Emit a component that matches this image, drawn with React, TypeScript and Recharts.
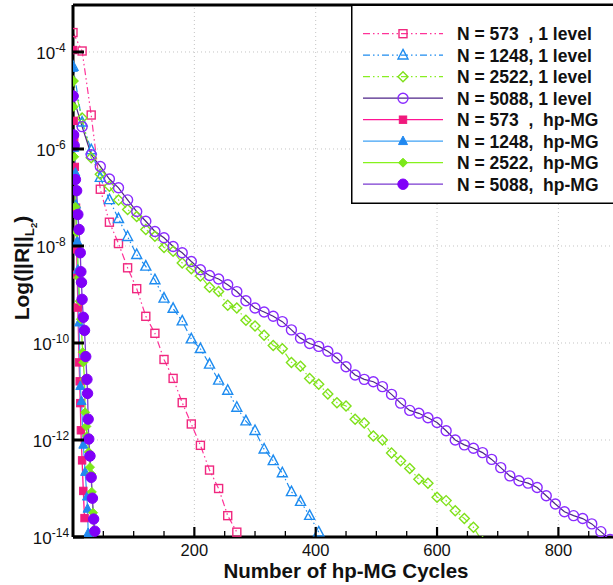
import React from 'react';
import { LineChart, Line, XAxis, YAxis, ReferenceLine, Legend } from 'recharts';

// ---- data (cycles and log10 of residual) ----
const pinkLevelCycles = [0, 15, 30, 45, 60, 75, 90, 105, 120, 135, 150, 165, 180, 195, 210, 225, 240, 255, 270];
const pinkLevelLog = [-3.60, -3.98, -5.30, -6.83, -7.51, -7.95, -8.45, -8.88, -9.45, -9.80, -10.34, -10.73, -11.23, -11.67, -12.11, -12.62, -13.00, -13.56, -13.90];

const blueLevelCycles = [0, 15, 30, 45, 60, 75, 90, 105, 120, 135, 150, 165, 180, 195, 210, 225, 240, 255, 270, 285, 300, 315, 330, 345, 360, 375, 390, 405];
const blueLevelLog = [-4.30, -5.45, -6.02, -6.59, -7.05, -7.44, -7.81, -8.18, -8.42, -8.70, -9.08, -9.29, -9.55, -9.92, -10.12, -10.44, -10.77, -10.98, -11.33, -11.61, -11.81, -12.19, -12.43, -12.68, -13.07, -13.27, -13.56, -13.90];

const greenLevelCycles = [0, 15, 30, 45, 60, 75, 90, 105, 120, 135, 150, 165, 180, 195, 210, 225, 240, 255, 270, 285, 300, 315, 330, 345, 360, 375, 390, 405, 420, 435, 450, 465, 480, 495, 510, 525, 540, 555, 570, 585, 600, 615, 630, 645, 660, 675];
const greenLevelLog = [-4.60, -5.36, -6.18, -6.52, -6.77, -7.05, -7.25, -7.39, -7.66, -7.80, -8.03, -8.11, -8.35, -8.47, -8.62, -8.85, -8.94, -9.22, -9.28, -9.53, -9.65, -9.84, -10.05, -10.12, -10.40, -10.48, -10.73, -10.85, -11.05, -11.23, -11.30, -11.57, -11.65, -11.92, -12.00, -12.27, -12.43, -12.59, -12.81, -12.89, -13.18, -13.25, -13.46, -13.62, -13.80, -14.10];

const purpleLevelCycles = [0, 15, 30, 45, 60, 75, 90, 105, 120, 135, 150, 165, 180, 195, 210, 225, 240, 255, 270, 285, 300, 315, 330, 345, 360, 375, 390, 405, 420, 435, 450, 465, 480, 495, 510, 525, 540, 555, 570, 585, 600, 615, 630, 645, 660, 675, 690, 705, 720, 735, 750, 765, 780, 795, 810, 825, 840, 855, 870, 885];
const purpleLevelLog = [-4.91, -5.54, -6.12, -6.36, -6.62, -6.80, -7.05, -7.29, -7.49, -7.70, -7.83, -8.01, -8.14, -8.32, -8.49, -8.61, -8.68, -8.80, -8.94, -9.13, -9.28, -9.36, -9.45, -9.56, -9.73, -9.90, -10.01, -10.07, -10.17, -10.31, -10.49, -10.66, -10.75, -10.80, -10.90, -11.06, -11.24, -11.39, -11.45, -11.54, -11.64, -11.81, -12.00, -12.10, -12.17, -12.26, -12.40, -12.57, -12.74, -12.84, -12.89, -12.98, -13.15, -13.32, -13.48, -13.56, -13.62, -13.73, -13.89, -14.05];

const pinkMgCycles = [0, 1, 2, 3, 5, 6, 7, 8, 10, 11, 12, 13, 15, 17, 19];
const pinkMgLog = [-3.96, -5.42, -5.77, -6.37, -7.21, -8.07, -8.59, -9.27, -10.40, -10.79, -11.24, -11.80, -12.42, -13.05, -13.61];

const blueMgCycles = [0, 2, 4, 5, 7, 8, 10, 12, 14, 17, 20, 23, 24, 25];
const blueMgLog = [-4.33, -5.98, -6.49, -7.15, -7.90, -8.49, -9.58, -10.89, -11.20, -12.10, -12.66, -13.17, -13.42, -13.92];

const greenMgCycles = [0, 1, 2, 4, 6, 9, 11, 13, 16, 17, 19, 20, 22, 23, 26, 28, 30, 31, 33, 34];
const greenMgLog = [-4.60, -5.13, -6.16, -7.19, -7.72, -8.65, -9.14, -9.51, -10.19, -10.40, -10.75, -11.43, -11.72, -11.92, -12.25, -12.56, -12.70, -13.07, -13.50, -13.90];

const purpleMgCycles = [0, 1, 2, 4, 6, 8, 10, 12, 13, 14, 15, 17, 19, 21, 23, 24, 25, 26, 28, 30, 32, 34, 36];
const purpleMgLog = [-4.91, -5.71, -5.93, -6.63, -6.86, -7.35, -7.66, -8.14, -8.53, -8.75, -9.10, -9.47, -9.74, -10.28, -10.75, -11.04, -11.57, -11.98, -12.33, -12.77, -13.20, -13.63, -13.88];

const legendLabels = [
  'N = 573  , 1 level',
  'N = 1248, 1 level',
  'N = 2522, 1 level',
  'N = 5088, 1 level',
  'N = 573  ,  hp-MG',
  'N = 1248,  hp-MG',
  'N = 2522,  hp-MG',
  'N = 5088,  hp-MG',
];

const xTicks = [50, 100, 150, 200, 250, 300, 350, 400, 450, 500, 550, 600, 650, 700, 750, 800, 850];
const xGrid = [200, 400, 600, 800];
const yTicks = [1e-14, 1e-12, 1e-10, 1e-8, 1e-6, 1e-4];
const yGrid = [1e-12, 1e-10, 1e-8, 1e-6, 1e-4];
const X_DOMAIN: [number, number] = [0, 890];
const Y_DOMAIN: [number, number] = [1e-14, 9.3e-4];

const FONT = '"Liberation Sans", Arial, Helvetica, sans-serif';

type Shape = 'square' | 'triangle' | 'diamond' | 'circle';
interface SeriesDef {
  id: string;
  label: string;
  cycles: number[];
  logs: number[];
  line: string;
  marker: string;
  shape: Shape;
  filled: boolean;
  size: number;
  dash?: string;
  width: number;
}

const DASH = '7 3 1.5 3 1.5 3';

const series: SeriesDef[] = [
  { id: 'p1', label: legendLabels[0], cycles: pinkLevelCycles, logs: pinkLevelLog, line: '#FF3399', marker: '#F0287F', shape: 'square', filled: false, size: 4, dash: DASH, width: 1.2 },
  { id: 'b1', label: legendLabels[1], cycles: blueLevelCycles, logs: blueLevelLog, line: '#1E8CF0', marker: '#1E8CF0', shape: 'triangle', filled: false, size: 5, dash: DASH, width: 1.2 },
  { id: 'g1', label: legendLabels[2], cycles: greenLevelCycles, logs: greenLevelLog, line: '#88EE22', marker: '#7FE01A', shape: 'diamond', filled: false, size: 5, dash: DASH, width: 1.2 },
  { id: 'v1', label: legendLabels[3], cycles: purpleLevelCycles, logs: purpleLevelLog, line: '#4E2588', marker: '#8A2BFF', shape: 'circle', filled: false, size: 5, width: 1.2 },
  { id: 'p2', label: legendLabels[4], cycles: pinkMgCycles, logs: pinkMgLog, line: '#FF1493', marker: '#F0197D', shape: 'square', filled: true, size: 3.7, width: 1.3 },
  { id: 'b2', label: legendLabels[5], cycles: blueMgCycles, logs: blueMgLog, line: '#3FA2F5', marker: '#2088F0', shape: 'triangle', filled: true, size: 4.5, width: 1.3 },
  { id: 'g2', label: legendLabels[6], cycles: greenMgCycles, logs: greenMgLog, line: '#86F21C', marker: '#7CE81A', shape: 'diamond', filled: true, size: 4.5, width: 1.3 },
  { id: 'v2', label: legendLabels[7], cycles: purpleMgCycles, logs: purpleMgLog, line: '#7A3AD0', marker: '#8000F8', shape: 'circle', filled: true, size: 5.2, width: 1.3 },
];

const toPoints = (cycles: number[], logs: number[]) =>
  cycles.map((c, i) => ({ x: c, y: Math.pow(10, logs[i]) }));

function Marker({ cx, cy, def }: { cx: number; cy: number; def: SeriesDef }) {
  const h = def.size;
  const fill = def.filled ? def.marker : 'none';
  const sw = def.filled ? 1 : 1.4;
  switch (def.shape) {
    case 'square':
      return <rect x={cx - h} y={cy - h} width={2 * h} height={2 * h} fill={fill} stroke={def.marker} strokeWidth={sw} />;
    case 'triangle':
      return (
        <polygon
          points={`${cx},${cy - h * 1.15} ${cx + h},${cy + h * 0.75} ${cx - h},${cy + h * 0.75}`}
          fill={fill}
          stroke={def.marker}
          strokeWidth={sw}
        />
      );
    case 'diamond':
      return <polygon points={`${cx},${cy - h} ${cx + h},${cy} ${cx},${cy + h} ${cx - h},${cy}`} fill={fill} stroke={def.marker} strokeWidth={sw} />;
    default:
      return <circle cx={cx} cy={cy} r={h} fill={fill} stroke={def.marker} strokeWidth={sw} />;
  }
}

const makeDot = (def: SeriesDef) => (props: any) => {
  const { cx, cy, index } = props;
  if (cx == null || cy == null || isNaN(cx) || isNaN(cy)) return <g key={`${def.id}-${index}`} />;
  return <Marker key={`${def.id}-${index}`} cx={cx} cy={cy} def={def} />;
};

const XTick = (props: any) => {
  const { x, y, payload } = props;
  const v = payload.value;
  const major = v % 200 === 0;
  return (
    <g>
      <line x1={x} x2={x} y1={y} y2={y - (major ? 10 : 6)} stroke="#000" strokeWidth={major ? 2.2 : 1.3} />
      {major && (
        <text x={x} y={y + 18.5} textAnchor="middle" fontSize={16.5} fontFamily={FONT} fill="#111">
          {v}
        </text>
      )}
    </g>
  );
};

const YTick = (props: any) => {
  const { x, y, payload } = props;
  const e = Math.round(Math.log10(payload.value));
  return (
    <g>
      <line x1={x} x2={x + 11} y1={y} y2={y} stroke="#000" strokeWidth={3} />
      <text x={x - 22} y={y + 7} textAnchor="middle" fontSize={17} fontFamily={FONT} fill="#111">
        <tspan>10</tspan>
        <tspan fontSize={12} dy={-7}>{e}</tspan>
      </text>
    </g>
  );
};

const YLabel = (props: any) => {
  const vb = props.viewBox || { x: 72, y: 5, width: 1, height: 532 };
  const cx = vb.x + (vb.width || 0) - 44;
  const cy = vb.y + vb.height / 2 - 3;
  return (
    <text
      transform={`translate(${cx}, ${cy}) rotate(-90)`}
      textAnchor="middle"
      fontSize={21}
      fontWeight="bold"
      fontFamily={FONT}
      fill="#111"
    >
      Log(||R||
      <tspan fontSize={13.5} dy={5}>L</tspan>
      <tspan fontSize={9.5} dy={3}>2</tspan>
      <tspan fontSize={21} dy={-8}>)</tspan>
    </text>
  );
};

const XLabel = (props: any) => {
  const vb = props.viewBox || { x: 73, y: 537, width: 540, height: 1 };
  return (
    <text x={vb.x + vb.width / 2 + 3} y={vb.y + 41} textAnchor="middle" fontSize={20.5} fontWeight="bold" fontFamily={FONT} fill="#111">
      Number of hp-MG Cycles
    </text>
  );
};

const LegendBox = () => {
  const rowY0 = 27.7;
  const rowStep = 21.5;
  return (
    <svg width={262} height={198} style={{ display: 'block', overflow: 'hidden' }}>
      <rect x={0} y={0} width={262} height={198} fill="#fff" />
      <line x1={0.75} x2={0.75} y1={0} y2={197.25} stroke="#000" strokeWidth={1.5} />
      <line x1={0} x2={262} y1={197.25} y2={197.25} stroke="#000" strokeWidth={1.5} />
      {series.map((s, i) => {
        const cy = rowY0 + i * rowStep;
        return (
          <g key={s.id}>
            <line x1={12} x2={92} y1={cy} y2={cy} stroke={s.line} strokeWidth={s.width} strokeDasharray={s.dash} />
            <Marker cx={52} cy={cy} def={s} />
            <text x={106} y={cy + 6.5} fontSize={17.5} fontWeight="bold" fontFamily={FONT} fill="#111" style={{ whiteSpace: 'pre' }}>
              {s.label}
            </text>
          </g>
        );
      })}
    </svg>
  );
};

export default function App() {
  return (
    <div style={{ position: 'absolute', left: 0, top: 0, width: 613, height: 585, background: '#fff' }}>
      <LineChart width={613} height={585} margin={{ top: 4, right: 0, bottom: 47, left: 72 }}>
        <XAxis
          type="number"
          dataKey="x"
          domain={X_DOMAIN}
          allowDataOverflow
          ticks={xTicks}
          interval={0}
          height={1}
          tickSize={0}
          tickMargin={0}
          tickLine={false}
          tick={<XTick />}
          axisLine={{ stroke: '#000', strokeWidth: 3 }}
          label={<XLabel />}
        />
        <XAxis
          xAxisId="top"
          orientation="top"
          type="number"
          domain={X_DOMAIN}
          allowDataOverflow
          height={1}
          tick={false}
          tickLine={false}
          axisLine={{ stroke: '#000', strokeWidth: 3 }}
        />
        <YAxis
          type="number"
          scale="log"
          domain={Y_DOMAIN}
          allowDataOverflow
          ticks={yTicks}
          interval={0}
          width={1}
          tickSize={0}
          tickMargin={0}
          tickLine={false}
          tick={<YTick />}
          axisLine={{ stroke: '#000', strokeWidth: 3 }}
          label={<YLabel />}
        />
        {xGrid.map((v) => (
          <ReferenceLine key={`gx${v}`} x={v} stroke="#c4c4c4" strokeDasharray="1 3" strokeWidth={1} />
        ))}
        {yGrid.map((v) => (
          <ReferenceLine key={`gy${v}`} y={v} stroke="#c4c4c4" strokeDasharray="1 3" strokeWidth={1} />
        ))}
        {series.map((s) => (
          <Line
            key={s.id}
            name={s.label}
            data={toPoints(s.cycles, s.logs)}
            dataKey="y"
            type="linear"
            stroke={s.line}
            strokeWidth={s.width}
            strokeDasharray={s.dash}
            dot={makeDot(s)}
            activeDot={false}
            isAnimationActive={false}
          />
        ))}
        <Legend
          layout="horizontal"
          verticalAlign="middle"
          align="center"
          content={() => <LegendBox />}
          wrapperStyle={{ position: 'absolute', left: 351, top: 6, width: 262, height: 198, margin: 0, padding: 0 }}
        />
      </LineChart>
    </div>
  );
}
